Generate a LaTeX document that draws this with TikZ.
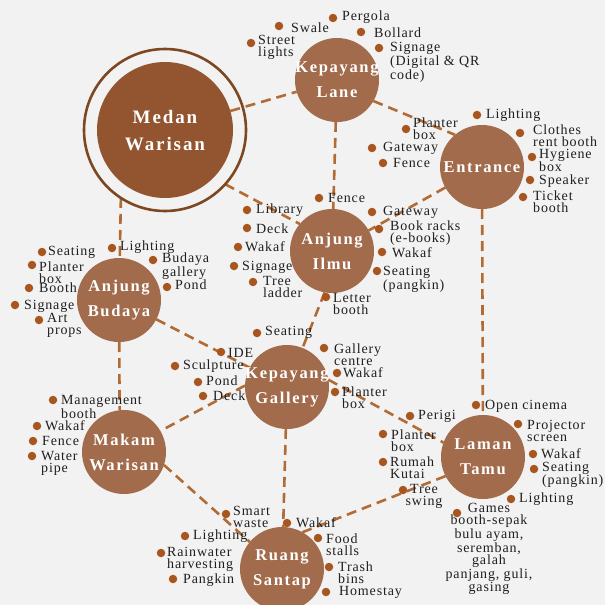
\documentclass[tikz,border=0pt]{standalone}
\usepackage{fontspec}
\setmainfont{Liberation Serif}
\newfontfamily\labfont{Liberation Serif}[LetterSpace=6]
\newfontfamily\circfont{Liberation Serif}[LetterSpace=10]
\definecolor{bgc}{HTML}{F2F2F2}
\definecolor{circc}{HTML}{A26B4C}
\definecolor{mwc}{HTML}{935530}
\definecolor{ringc}{HTML}{7D4821}
\definecolor{dotc}{HTML}{A8561F}
\definecolor{linec}{HTML}{B36B35}
\definecolor{txtc}{HTML}{1F1F1F}
\pgfdeclarelayer{back}
\pgfdeclarelayer{mid}
\pgfsetlayers{back,mid,main}
\tikzset{
  bub/.style={circle, fill=circc, minimum size=84pt, inner sep=0pt, outer sep=0pt},
  bubtext/.style={text=white, font=\circfont\bfseries\fontsize{16.5}{25}\selectfont, align=center, inner sep=0pt},
  conn/.style={draw=linec, line width=2.6pt, dash pattern=on 10pt off 6pt},
  dotn/.style={circle, fill=dotc, minimum size=8.5pt, inner sep=0pt, outer sep=0pt},
  lbl/.style={text=txtc, font=\labfont\fontsize{14}{12}\selectfont, align=left, anchor=west, inner sep=0pt},
  lblc/.style={lbl, align=center, anchor=center},
}
\newcommand\lab[6]{\node[dotn] (#1d) at (#2,#3) {}; \node[lbl] (#1) at (#4,#5) {#6};}
\newcommand\labc[6]{\node[dotn] (#1d) at (#2,#3) {}; \node[lblc] (#1) at (#4,#5) {#6};}
\begin{document}
\begin{tikzpicture}[x=1pt,y=-1pt]
\useasboundingbox (0,0) rectangle (605,605);
\begin{pgfonlayer}{back}
\fill[bgc] (0,0) rectangle (605,605);
\end{pgfonlayer}
% main nodes
\node[circle, draw=ringc, line width=2.6pt, minimum size=162pt, inner sep=0pt, outer sep=0pt] (MWr) at (165,130) {};
\node[circle, fill=mwc, minimum size=136pt, inner sep=0pt, outer sep=0pt] (MW) at (165,130) {};
\node[text=white, font=\circfont\bfseries\fontsize{19}{27}\selectfont, align=center, inner sep=0pt] (MWt) at (165,131) {Medan\\Warisan};
\node[bub] (KL) at (337,80) {};
\node[bub] (EN) at (482,167) {};
\node[bub] (AI) at (332,251) {};
\node[bub] (AB) at (119,300) {};
\node[bub] (KG) at (287,387) {};
\node[bub] (MK) at (124,452) {};
\node[bub] (LT) at (483,457) {};
\node[bub] (RS) at (282,569) {};
\node[bubtext] (KLt) at (KL) {Kepayang\\Lane};
\node[bubtext] (ENt) at (EN) {Entrance};
\node[bubtext] (AIt) at (AI) {Anjung\\Ilmu};
\node[bubtext] (ABt) at (AB) {Anjung\\Budaya};
\node[bubtext] (KGt) at (KG) {Kepayang\\Gallery};
\node[bubtext] (MKt) at (MK) {Makam\\Warisan};
\node[bubtext] (LTt) at (LT) {Laman\\Tamu};
\node[bubtext] (RSt) at (RS) {Ruang\\Santap};
% connectors
\begin{pgfonlayer}{mid}
\draw[conn] (MW) -- (KL);
\draw[conn] (MWr.-42) -- (AI.140);
\draw[conn] (MWr.-123) -- (AB);
\draw[conn] (KL.-30) -- (EN.130);
\draw[conn] (KL) -- (AI);
\draw[conn] (EN) -- (AI);
\draw[conn] (EN) -- (LT);
\draw[conn] (AI.-100) -- (KG);
\draw[conn] (AB) -- (KG);
\draw[conn] (AB) -- (MK.96);
\draw[conn] (KG.178) -- (MK.30);
\draw[conn] (KG.10) -- (LT.160);
\draw[conn] (KG) -- (RS);
\draw[conn] (MK.-18) -- (RS.140);
\draw[conn] (LT.-153) -- (RS.61);
\end{pgfonlayer}
% Kepayang Lane
\lab{kla}{333}{18}{342}{17}{Pergola}
\lab{klb}{279}{26}{291}{28}{Swale}
\lab{klc}{361}{32}{374}{33}{Bollard}
\lab{kld}{251}{43}{258}{47.5}{Street\\lights}
\lab{kle}{379}{48}{390}{62.5}{Signage\\(Digital \& QR\\code)}
% Entrance
\lab{ena}{477}{115}{486}{115}{Lighting}
\lab{enb}{406}{129}{413}{128.5}{Planter\\box}
\lab{enc}{372}{148}{383}{148}{Gateway}
\lab{end}{383}{163}{393}{163}{Fence}
\lab{ene}{520}{133}{533}{136}{Clothes\\rent booth}
\lab{enf}{532}{157}{539}{160.5}{Hygiene\\box}
\lab{eng}{530}{180}{539}{181}{Speaker}
\lab{enh}{523}{197}{533}{201.5}{Ticket\\booth}
% Anjung Ilmu
\lab{aia}{319}{198}{328}{198}{Fence}
\lab{aib}{247}{210}{256}{210}{Library}
\lab{aic}{372}{212}{383}{212}{Gateway}
\lab{aid}{247}{228}{256}{229}{Deck}
\lab{aie}{379}{229}{390}{233}{Book racks\\(e-books)}
\lab{aif}{238}{247}{245}{247}{Wakaf}
\lab{aig}{382}{252}{392}{253}{Wakaf}
\lab{aih}{234}{266}{242}{267}{Signage}
\lab{aii}{377}{271}{383}{279.5}{Seating\\(pangkin)}
\lab{aij}{253}{282}{263}{286.5}{Tree\\ladder}
\lab{aik}{326}{297}{333}{303.5}{Letter\\booth}
% Anjung Budaya
\lab{aba}{42}{252}{48}{252}{Seating}
\lab{abb}{112}{248}{120}{247}{Lighting}
\lab{abc}{32}{265}{39}{272.5}{Planter\\box}
\lab{abd}{153}{260}{162}{266}{Budaya\\gallery}
\lab{abe}{167}{287}{175}{285}{Pond}
\lab{abf}{29}{288}{39}{288}{Booth}
\lab{abg}{15}{305}{24}{306}{Signage}
\lab{abh}{39}{320}{47}{325.5}{Art\\props}
% Kepayang Gallery
\lab{kga}{257}{333}{265}{332}{Seating}
\lab{kgb}{221}{352}{228}{353}{IDE}
\lab{kgc}{324}{348}{334}{354.5}{Gallery\\centre}
\lab{kgd}{175}{366}{183}{366}{Sculpture}
\lab{kge}{337}{373}{343}{373}{Wakaf}
\lab{kgf}{198}{382}{206}{381}{Pond}
\lab{kgg}{203}{396}{213}{396}{Deck}
\lab{kgh}{335}{392}{342}{398}{Planter\\box}
% Makam Warisan
\lab{mka}{53}{400}{61}{407}{Management\\booth}
\lab{mkb}{37}{426}{45}{426}{Wakaf}
\lab{mkc}{33}{441}{42}{441}{Fence}
\lab{mkd}{32}{456}{41}{463}{Water\\pipe}
% Laman Tamu
\lab{lta}{476}{405}{485}{406}{Open cinema}
\lab{ltb}{410}{416}{418}{416}{Perigi}
\lab{ltc}{518}{424}{527}{431}{Projector\\screen}
\lab{ltd}{383}{434}{391}{441}{Planter\\box}
\lab{lte}{533}{454}{541}{454}{Wakaf}
\lab{ltf}{534}{469}{542}{475}{Seating\\(pangkin)}
\lab{ltg}{383}{462}{390}{467.5}{Rumah\\Kutai}
\labc{lth}{403}{490}{424}{496}{Tree\\swing}
\lab{lti}{511}{499}{519}{499}{Lighting}
\labc{ltj}{457}{513}{489}{549}{Games\\booth-sepak\\bulu ayam,\\seremban,\\galah\\panjang, guli,\\gasing}
% Ruang Santap
\lab{rsa}{226}{514}{233}{516.5}{Smart\\waste}
\lab{rsb}{287}{523}{296}{523}{Wakaf}
\lab{rsc}{185}{536}{193}{536}{Lighting}
\lab{rsd}{318}{538}{326}{544.5}{Food\\stalls}
\lab{rse}{161}{553}{167}{559}{Rainwater\\harvesting}
\lab{rsf}{329}{567}{338}{572.5}{Trash\\bins}
\lab{rsg}{173}{579}{183}{580}{Pangkin}
\lab{rsh}{326}{592}{339}{592}{Homestay}
\end{tikzpicture}
\end{document}
